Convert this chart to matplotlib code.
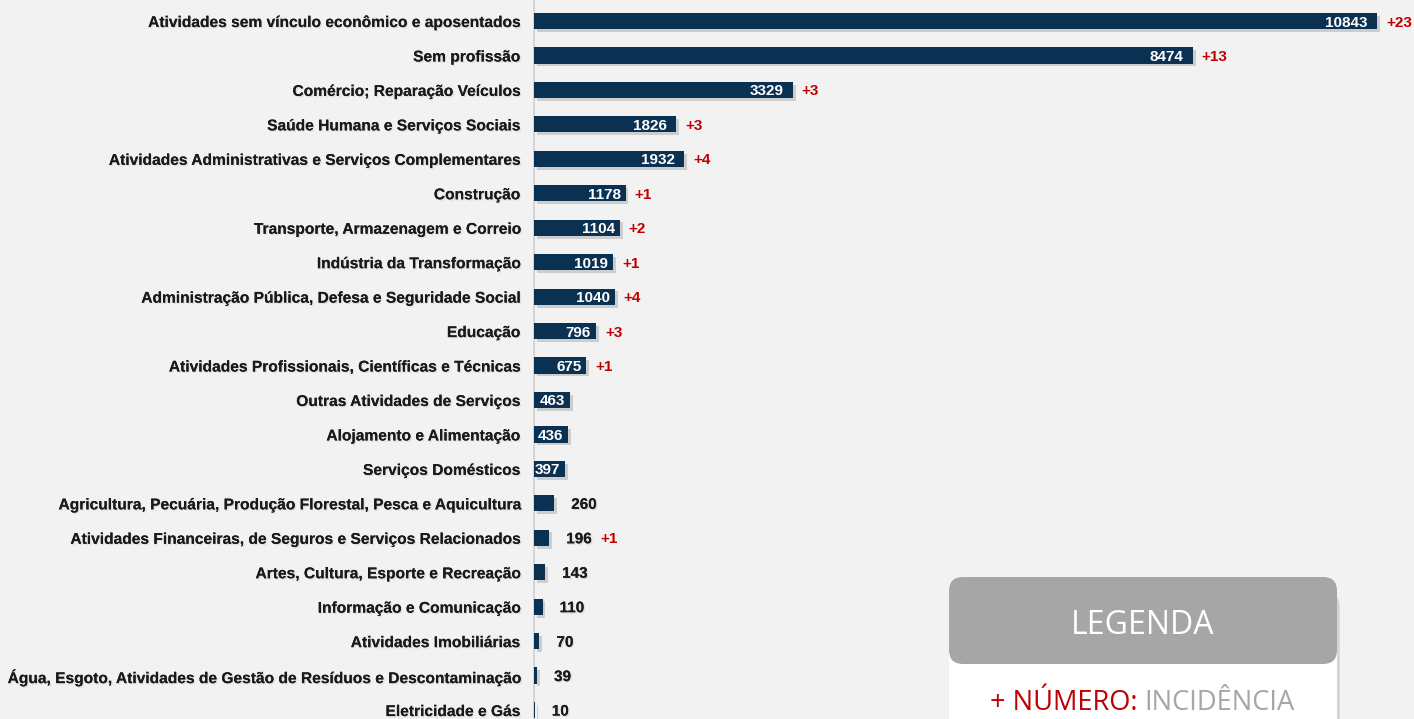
import matplotlib
matplotlib.use("Agg")
import matplotlib.pyplot as plt
import matplotlib.patheffects as pe
from matplotlib.patches import FancyBboxPatch

categories = [
    "Atividades sem vínculo econômico e aposentados",
    "Sem profissão",
    "Comércio; Reparação Veículos",
    "Saúde Humana e Serviços Sociais",
    "Atividades Administrativas e Serviços Complementares",
    "Construção",
    "Transporte, Armazenagem e Correio",
    "Indústria da Transformação",
    "Administração Pública, Defesa e Seguridade Social",
    "Educação",
    "Atividades Profissionais, Científicas e Técnicas",
    "Outras Atividades de Serviços",
    "Alojamento e Alimentação",
    "Serviços Domésticos",
    "Agricultura, Pecuária, Produção Florestal, Pesca e Aquicultura",
    "Atividades Financeiras, de Seguros e Serviços Relacionados",
    "Artes, Cultura, Esporte e Recreação",
    "Informação e Comunicação",
    "Atividades Imobiliárias",
    "Água, Esgoto, Atividades de Gestão de Resíduos e Descontaminação",
    "Eletricidade e Gás",
]
values = [10843, 8474, 3329, 1826, 1932, 1178, 1104, 1019, 1040, 796, 675,
          463, 436, 397, 260, 196, 143, 110, 70, 39, 10]
increments = [23, 13, 3, 3, 4, 1, 2, 1, 4, 3, 1,
              0, 0, 0, 0, 1, 0, 0, 0, 0, 0]

legend_title = "LEGENDA"
legend_key = "+ NÚMERO:"
legend_desc = "INCIDÊNCIA"

BG = "#F2F2F2"
NAVY = "#0B3152"
RED = "#C00000"
W, H = 1414, 719
FS = 11
FS_LAB = 11.2

fig = plt.figure(figsize=(W / 100, H / 100), dpi=100, facecolor=BG)
ax = fig.add_axes([534 / W, 0, 1 - 534 / W, 1])
ax.set_facecolor(BG)

px_per_unit = (1377 - 534) / 10843.0
ax.set_xlim(0, (W - 534) / px_per_unit)
ax.set_ylim(20.26, -0.61)

ypos = list(range(len(categories)))
shadow = [pe.SimplePatchShadow(offset=(2, -2), shadow_rgbFace="#000000", alpha=0.15), pe.Normal()]
bars = ax.barh(ypos, values, height=0.47, color=NAVY, zorder=3)
for b in bars:
    b.set_path_effects(shadow)

ax.set_yticks(ypos)
ax.set_yticklabels(categories, fontfamily="Liberation Sans", fontweight="bold",
                   fontsize=FS_LAB, color="#1a1a1a")
for t in ax.get_yticklabels():
    t.set_path_effects([pe.withSimplePatchShadow(offset=(1, -1), alpha=0.08), pe.Normal()])
ax.tick_params(axis="y", length=0, pad=10)
ax.set_xticks([])
for s in ["top", "right", "bottom"]:
    ax.spines[s].set_visible(False)
ax.spines["left"].set_color("#D0D0D0")
ax.spines["left"].set_linewidth(1.2)

fig.canvas.draw()
renderer = fig.canvas.get_renderer()

def px_to_data(dx):
    return dx / px_per_unit

txt_shadow = [pe.withSimplePatchShadow(offset=(1, -1), alpha=0.1), pe.Normal()]
for i, (v, inc) in enumerate(zip(values, increments)):
    if v >= 300:
        pad = 9 if v > 1500 else 5
        t = ax.text(v - px_to_data(pad), i, str(v), ha="right", va="center_baseline",
                    color="white", fontfamily="Liberation Sans", fontweight="bold",
                    fontsize=FS, zorder=4)
        end_x = v
    else:
        t = ax.text(v + px_to_data(17), i, str(v), ha="left", va="center_baseline",
                    color="#1a1a1a", fontfamily="Liberation Sans", fontweight="bold",
                    fontsize=FS, zorder=4)
        t.set_path_effects(txt_shadow)
        bb = t.get_window_extent(renderer)
        end_x = (bb.x1 - ax.transData.transform((0, 0))[0]) / px_per_unit
    if inc:
        ax.text(end_x + px_to_data(9), i, f"+{inc}", ha="left", va="center_baseline",
                color=RED, fontfamily="Liberation Sans", fontweight="bold",
                fontsize=FS, zorder=4)

# Legend box (overlay in pixel coordinates)
ov = fig.add_axes([0, 0, 1, 1], facecolor="none")
ov.set_xlim(0, W)
ov.set_ylim(H, 0)
ov.axis("off")
body = FancyBboxPatch((949, 590), 388, 160, boxstyle="round,pad=0,rounding_size=14",
                      facecolor="white", edgecolor="none", zorder=1)
body.set_path_effects([pe.SimplePatchShadow(offset=(2, -2), shadow_rgbFace="#000000", alpha=0.12), pe.Normal()])
ov.add_patch(body)
head = FancyBboxPatch((949, 577), 388, 87, boxstyle="round,pad=0,rounding_size=14",
                      facecolor="#A6A6A6", edgecolor="none", zorder=2)
ov.add_patch(head)
ov.text(1143, 622, legend_title, ha="center", va="center_baseline", color="white",
        fontfamily="Open Sans", fontsize=23, zorder=3)
t1 = ov.text(990, 700, legend_key + " ", ha="left", va="center_baseline", color=RED,
             fontfamily="Open Sans", fontsize=19.6, zorder=3)
fig.canvas.draw()
bb = t1.get_window_extent(fig.canvas.get_renderer())
x_end = ov.transData.inverted().transform((bb.x1, bb.y0))[0]
ov.text(x_end, 700, legend_desc, ha="left", va="center_baseline", color="#A6A6A6",
        fontfamily="Open Sans", fontsize=19.6, zorder=3)

fig.savefig("out.png", dpi=100, facecolor=BG)
